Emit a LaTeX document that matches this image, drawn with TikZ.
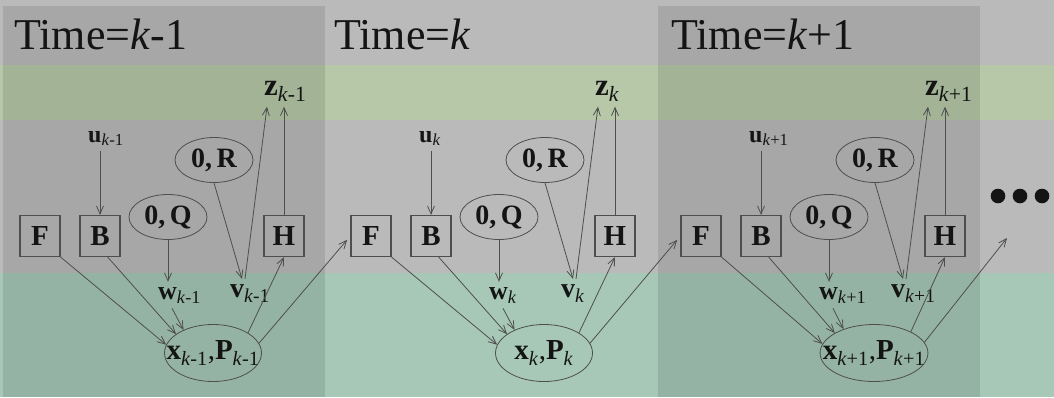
\documentclass[tikz,border=0pt]{standalone}
\usepackage{fontspec}
\setmainfont{Liberation Serif}
\usetikzlibrary{arrows.meta,positioning,shapes.geometric}

\definecolor{bgc}{RGB}{186,186,186}
\definecolor{linec}{RGB}{78,78,78}
\definecolor{inkc}{RGB}{20,20,20}
\definecolor{topband}{RGB}{173,233,126}
\definecolor{botband}{RGB}{126,233,179}

\newcommand{\sbx}[1]{\textsubscript{#1}}

\begin{document}
\begin{tikzpicture}[x=1pt, y=-1pt,
  ttl/.style={font=\fontsize{44}{48}\selectfont, text=inkc, anchor=base west, inner sep=0pt},
  mat/.style={draw=linec, line width=1.2pt, minimum width=40pt, minimum height=41pt, inner sep=0pt, text=inkc, font=\fontsize{29}{32}\selectfont\bfseries},
  noise/.style={draw=linec, line width=0.8pt, ellipse, inner sep=0pt, minimum width=78pt, minimum height=45pt, text=inkc, font=\fontsize{28}{30}\selectfont\bfseries},
  state/.style={draw=linec, line width=0.8pt, ellipse, inner xsep=-13pt, inner ysep=0pt, minimum width=97pt, minimum height=57pt, text=inkc, font=\fontsize{29}{32}\selectfont},
  lbl/.style={inner xsep=0pt, inner ysep=5pt, anchor=base west, text=inkc},
  arr/.style={-{Straight Barb[length=8pt,width=7pt]}, draw=linec, line width=0.8pt}
]
\useasboundingbox (0,0) rectangle (1054,397);

% ---------- Background ----------
\fill[bgc] (0,0) rectangle (1054,397);
\fill[topband, opacity=0.3] (0,65) rectangle (1054,120);
\fill[botband, opacity=0.3] (0,273) rectangle (1054,397);
\fill[black, opacity=0.1] (3,6) rectangle (325,397);
\fill[black, opacity=0.1] (658,6) rectangle (980,397);

% ---------- One time step per block ----------
\foreach \i/\ox/\tx/\sfx in {0/0/14/-1, 1/331/334/\relax, 2/661/671/+1} {
  \node[ttl] (T\i) at (\tx,49) {Time=\textit{k}\sfx};

  \node[mat] (F\i) at (\ox+40,236) {F};
  \node[mat] (B\i) at (\ox+100,236) {B};
  \node[mat] (H\i) at (\ox+284,236) {H};
  \node[noise] (Q\i) at (\ox+168,217) {0,\,Q};
  \node[noise] (R\i) at (\ox+214,160) {0,\,R};
  \node[state] (X\i) at (\ox+213,353)
    {\textbf{x}\sbx{\textit{k}\sfx},\textbf{P}\sbx{\textit{k}\sfx}};

  \node[lbl, font=\fontsize{24}{26}\selectfont] (u\i) at (\ox+88,142) {\textbf{u}\sbx{\textit{k}\sfx}};
  \node[lbl, font=\fontsize{31}{33}\selectfont] (z\i) at (\ox+264,95) {\textbf{z}\sbx{\textit{k}\sfx}};
  \node[lbl, font=\fontsize{26}{28}\selectfont] (w\i) at (\ox+158,299) {\textbf{w}\sbx{\textit{k}\sfx}};
  \node[lbl, font=\fontsize{28}{30}\selectfont] (v\i) at (\ox+230,297) {\textbf{v}\sbx{\textit{k}\sfx}};

  % inputs and noise
  \draw[arr] (B\i.north |- u\i.south) -- (B\i.north);
  \draw[arr] (Q\i.south) -- (Q\i.south |- w\i.north);
  \draw[arr] (R\i.south) -- ([xshift=12pt]v\i.north west);

  % state update
  \draw[arr] (F\i.south east) -- (X\i.170);
  \draw[arr] (B\i.-70) -- (X\i.153);
  \draw[arr] ([xshift=14pt]w\i.south west) -- (X\i.142);

  % measurement
  \draw[arr] (X\i.30) -- (H\i.south);
  \draw[arr] ([xshift=15pt]v\i.north west) -- ([xshift=3pt]z\i.south west);
  \draw[arr] (H\i.north) -- (H\i.north |- z\i.south);
}

% ---------- Links to the next step ----------
\coordinate (more) at (1007,238);
\foreach \i/\nx in {0/1, 1/2}
  \draw[arr, shorten >=5pt] (X\i.12) -- (F\nx.west);
\draw[arr] (X2.12) -- (more);

\foreach \dx in {998,1020,1042}
  \fill[inkc] (\dx,196) circle (7.3pt);
\end{tikzpicture}
\end{document}
